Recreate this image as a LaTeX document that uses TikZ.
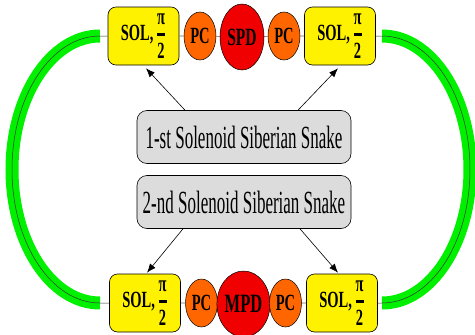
\documentclass[tikz,border=0pt]{standalone}
\usepackage{fontspec}
\usepackage{graphicx}
\usepackage{amsmath}
\setmainfont{Liberation Serif}
\usetikzlibrary{shapes.geometric,arrows.meta}
\definecolor{pcorange}{RGB}{255,102,0}
\definecolor{pdred}{RGB}{240,0,0}
\definecolor{boxgray}{RGB}{220,220,220}
\definecolor{ringgreen}{RGB}{0,240,0}
\newcommand\vstr[2]{\scalebox{1}[#1]{#2}}
\newcommand\soltext{\vstr{1.6}{\fontsize{14.5}{14.5}\selectfont\bfseries SOL,\,$\genfrac{}{}{1.5pt}{0}{\mbox{π}}{\mbox{2}}$}}
\newcommand\bt[2]{\vstr{1.6}{\fontsize{#1}{#1}\selectfont\bfseries #2}}
\newcommand\st[1]{\vstr{1.9}{\fontsize{17}{17}\selectfont #1}}
\begin{document}
\begin{tikzpicture}[x=1pt,y=-1pt,
  solbox/.style={draw=black,line width=0.6pt,fill=yellow,rounded corners=8pt,minimum width=71pt,minimum height=58pt,inner sep=0pt},
  pcell/.style={ellipse,draw=black,line width=0.5pt,fill=pcorange,minimum width=32pt,minimum height=48pt,inner sep=0pt},
  pdell/.style={ellipse,draw=black,line width=0.5pt,fill=pdred,minimum width=44pt,minimum height=66pt,inner sep=0pt},
  snakebox/.style={draw=black,line width=0.6pt,fill=boxgray,rounded corners=10pt,minimum width=214pt,minimum height=53pt,inner sep=0pt},
  link/.style={draw=black!60,line width=0.6pt},
  arr/.style={draw=black,line width=0.6pt,-{Latex[length=9pt,width=7pt]}},
  ring/.style={draw=ringgreen,line width=13pt,line cap=butt},
  ringcore/.style={draw=black!80,line width=0.5pt}]
\useasboundingbox (0,0) rectangle (475,335);
% rings (behind)
\coordinate (aLT) at (100,36);
\coordinate (aLB) at (100,303);
\coordinate (aRT) at (382,36);
\coordinate (aRB) at (382,303);
\draw[ring] (aLT) arc[start angle=270,end angle=90,x radius=88,y radius=133.5];
\draw[ring] (aRT) arc[start angle=-90,end angle=90,x radius=88,y radius=133.5];
% top row
\node[solbox] (solTL) at (143.5,36) {\soltext};
\node[pcell] (pcT1) at (200,36) {\bt{14.5}{PC}};
\node[pdell] (spd) at (242,37) {\bt{15.5}{SPD}};
\node[pcell] (pcT2) at (284,36) {\bt{14.5}{PC}};
\node[solbox] (solTR) at (340,36) {\soltext};
% bottom row
\node[solbox] (solBL) at (145,303) {\soltext};
\node[pcell] (pcB1) at (201.5,303) {\bt{14.5}{PC}};
\node[pdell] (mpd) at (243.5,304) {\bt{16.5}{MPD}};
\node[pcell] (pcB2) at (285.5,303) {\bt{14.5}{PC}};
\node[solbox] (solBR) at (342,303) {\soltext};
% center boxes
\node[snakebox] (snake1) at (244,137) {\st{1-st Solenoid Siberian Snake}};
\node[snakebox] (snake2) at (244,202) {\st{2-nd Solenoid Siberian Snake}};
% links
\draw[link] (solTL) -- (pcT1) (pcT1) -- (spd) (spd) -- (pcT2) (pcT2) -- (solTR);
\draw[link] (solBL) -- (pcB1) (pcB1) -- (mpd) (mpd) -- (pcB2) (pcB2) -- (solBR);
\draw[ringcore] (solTL.west) -- (aLT) arc[start angle=270,end angle=90,x radius=88,y radius=133.5] -- (solBL.west);
\draw[ringcore] (solTR.east) -- (aRT) arc[start angle=-90,end angle=90,x radius=88,y radius=133.5] -- (solBR.east);
% arrows
\draw[arr] ([xshift=-59pt]snake1.north) -- ([xshift=2.5pt,yshift=-3pt]solTL.south);
\draw[arr] ([xshift=54pt]snake1.north) -- ([xshift=-2pt,yshift=-3pt]solTR.south);
\draw[arr] ([xshift=-61pt]snake2.south) -- ([xshift=2pt,yshift=1pt]solBL.north);
\draw[arr] ([xshift=56pt]snake2.south) -- ([xshift=-4pt,yshift=1pt]solBR.north);
\end{tikzpicture}
\end{document}
